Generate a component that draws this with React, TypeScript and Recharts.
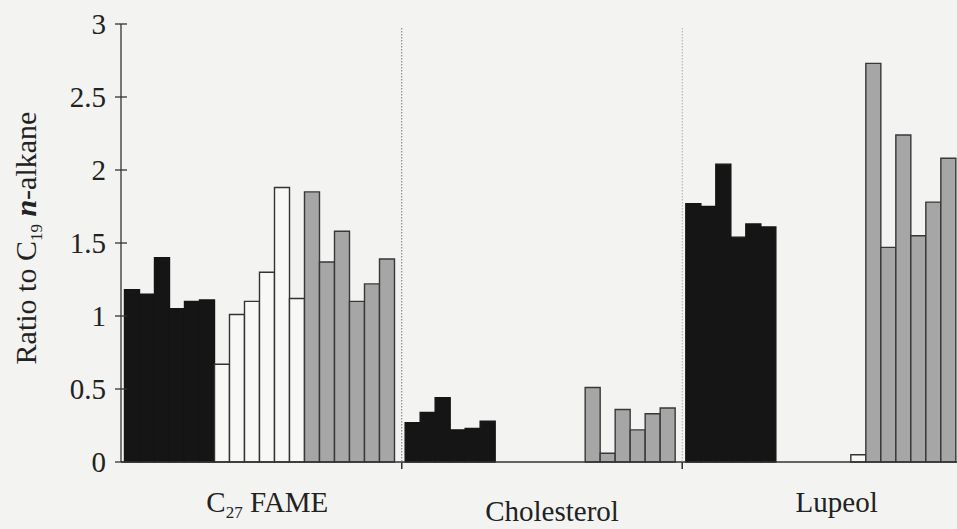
import React from 'react';
import { BarChart, Bar, XAxis, YAxis } from 'recharts';

// Compound names along the x axis
const groups = ['C27 FAME', 'Cholesterol', 'Lupeol'];

// Ratio to the C19 n-alkane, six replicates per treatment
const fameBlack = [1.18, 1.15, 1.4, 1.05, 1.1, 1.11];
const fameWhite = [0.67, 1.01, 1.1, 1.3, 1.88, 1.12];
const fameGrey = [1.85, 1.37, 1.58, 1.1, 1.22, 1.39];

const cholBlack = [0.27, 0.34, 0.44, 0.22, 0.23, 0.28];
const cholWhite = [0, 0, 0, 0, 0, 0];
const cholGrey = [0.51, 0.06, 0.36, 0.22, 0.33, 0.37];

const lupBlack = [1.77, 1.75, 2.04, 1.54, 1.63, 1.61];
const lupWhite = [0, 0, 0, 0, 0, 0.05];
const lupGrey = [2.73, 1.47, 2.24, 1.55, 1.78, 2.08];

const yTicks = [0, 0.5, 1, 1.5, 2, 2.5, 3];

const kinds = ['black', 'white', 'grey'];
const groupValues = [
  { black: fameBlack, white: fameWhite, grey: fameGrey },
  { black: cholBlack, white: cholWhite, grey: cholGrey },
  { black: lupBlack, white: lupWhite, grey: lupGrey },
];

const data = groups.map((g, gi) => {
  const row: Record<string, any> = { group: g };
  kinds.forEach((k) => {
    (groupValues[gi] as any)[k].forEach((v: number, i: number) => {
      row[`${k}${i}`] = v;
    });
  });
  return row;
});

const barKeys: { key: string; kind: string }[] = [];
kinds.forEach((k) => {
  for (let i = 0; i < 6; i++) barKeys.push({ key: `${k}${i}`, kind: k });
});

const FONT = '"Liberation Serif", "Times New Roman", serif';
const INK = '#222';

const W = 980;
const H = 529;
const MARGIN = { top: 24, right: 17, bottom: 27, left: 0 };
const Y_W = 121;
const X_H = 40;
const PLOT_LEFT = MARGIN.left + Y_W;
const PLOT_TOP = MARGIN.top;
const PLOT_BOTTOM = H - MARGIN.bottom - X_H;
const PLOT_RIGHT = W - MARGIN.right;
const HALF_BAND = (PLOT_RIGHT - PLOT_LEFT) / groups.length / 2;

const fills: Record<string, { fill: string; stroke: string }> = {
  black: { fill: '#151515', stroke: '#151515' },
  white: { fill: '#f8f8f6', stroke: '#333' },
  grey: { fill: '#a6a6a6', stroke: '#383838' },
};

// label placement tweaks per category
const labelShift = [6, 10, 14];
const labelBase = [512, 521, 512];
const sepColor = ['#8c8c8c', '#b8b8b8'];

const YTick = (props: any) => {
  const { y, payload } = props;
  return (
    <g>
      <line x1={PLOT_LEFT - 6} x2={PLOT_LEFT + 6} y1={y} y2={y} stroke="#333" strokeWidth={1.3} />
      <text x={PLOT_LEFT - 15} y={y + 10} textAnchor="end" fontFamily={FONT} fontSize={29} fill={INK}>
        {String(payload.value)}
      </text>
    </g>
  );
};

const GroupTick = (props: any) => {
  const { x, payload, index } = props;
  const left = x - HALF_BAND;
  const right = x + HALF_BAND;
  const label =
    payload.value === 'C27 FAME' ? (
      <>
        C<tspan fontSize={17} dy={6}>27</tspan>
        <tspan dy={-6}> FAME</tspan>
      </>
    ) : (
      payload.value
    );
  return (
    <g>
      {index > 0 && (
        <line
          x1={left}
          x2={left}
          y1={PLOT_TOP + 4}
          y2={PLOT_BOTTOM}
          stroke={sepColor[index - 1]}
          strokeWidth={1.2}
          strokeDasharray="1.5 1.5"
        />
      )}
      {index > 0 && <line x1={left} x2={left} y1={PLOT_BOTTOM} y2={PLOT_BOTTOM + 7} stroke="#333" strokeWidth={1.3} />}
      <line x1={right} x2={right} y1={PLOT_BOTTOM} y2={PLOT_BOTTOM + 7} stroke="#333" strokeWidth={1.3} />
      <text x={x + labelShift[index]} y={labelBase[index]} textAnchor="middle" fontFamily={FONT} fontSize={29} fill={INK}>
        {label}
      </text>
    </g>
  );
};

const YTitle = () => (
  <text
    x={36}
    y={238}
    transform="rotate(-90 36 238)"
    textAnchor="middle"
    fontFamily={FONT}
    fontSize={30}
    fill={INK}
  >
    Ratio to C<tspan fontSize={17} dy={6}>19</tspan>
    <tspan dy={-6}> </tspan>
    <tspan fontStyle="italic" fontWeight="bold">n</tspan>
    <tspan>-alkane</tspan>
  </text>
);

export default function App() {
  return (
    <div
      style={{
        position: 'fixed',
        left: 0,
        top: 0,
        width: 957,
        height: 529,
        overflow: 'hidden',
        background: '#f3f3f1',
      }}
    >
      <BarChart width={W} height={H} data={data} margin={MARGIN} barCategoryGap={3.5} barGap={0}>
        <XAxis
          dataKey="group"
          height={X_H}
          interval={0}
          tickLine={false}
          axisLine={{ stroke: '#333', strokeWidth: 1.3 }}
          tick={<GroupTick />}
        />
        <YAxis
          type="number"
          domain={[0, 3]}
          ticks={yTicks}
          width={Y_W}
          tickLine={false}
          axisLine={{ stroke: '#333', strokeWidth: 1.3 }}
          tick={<YTick />}
          label={<YTitle />}
        />
        {barKeys.map((b) => (
          <Bar
            key={b.key}
            dataKey={b.key}
            fill={fills[b.kind].fill}
            stroke={fills[b.kind].stroke}
            strokeWidth={1.4}
            isAnimationActive={false}
          />
        ))}
      </BarChart>
    </div>
  );
}
